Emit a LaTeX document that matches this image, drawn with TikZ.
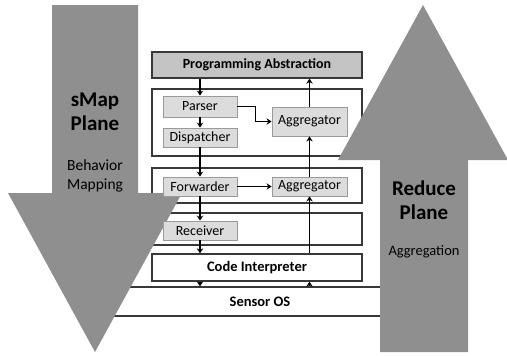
\documentclass[tikz,border=0pt]{standalone}
\usepackage{fontspec}
\setmainfont{Carlito}
\usetikzlibrary{arrows.meta}
\definecolor{bigarrow}{HTML}{8F8F8F}
\definecolor{absfill}{HTML}{C4C4C4}
\definecolor{boxfill}{HTML}{DCDCDC}
\definecolor{boxline}{HTML}{9A9A9A}
\definecolor{frameline}{HTML}{383838}
\begin{document}
\begin{tikzpicture}[x=1pt,y=-1pt,
  frame/.style={draw=frameline,line width=1.3pt,fill=white,inner sep=0pt,minimum width=210pt},
  inbox/.style={draw=boxline,line width=0.9pt,fill=boxfill,inner sep=0pt,minimum width=74pt,font=\fontsize{14}{15}\selectfont},
  conn/.style={draw=black,line width=1.7pt,-{Stealth[length=5pt,width=6.5pt]}},
  plane/.style={align=center,font=\fontsize{21}{24}\selectfont\bfseries},
  sub/.style={align=center,font=\fontsize{14.5}{19}\selectfont}]
\useasboundingbox (0,0) rectangle (507,356);
% sensor OS (behind arrows)
\node[frame,minimum width=320pt,minimum height=29pt,font=\fontsize{14.5}{15}\selectfont\bfseries] (os) at (260,301.5) {Sensor OS};
% frames
\node[frame,fill=absfill,minimum height=26pt,font=\fontsize{14}{15}\selectfont\bfseries] (pa) at (257,65) {Programming Abstraction};
\node[frame,minimum height=67pt] (f1) at (257,122.5) {};
\node[frame,minimum height=35pt] (f2) at (257,185.5) {};
\node[frame,minimum height=32pt] (f3) at (257,229) {};
\node[frame,minimum height=27pt,font=\fontsize{14.5}{15}\selectfont\bfseries] (ci) at (257,267.5) {Code Interpreter};
% big arrows
\fill[bigarrow] (52,5) -- (138,5) -- (138,193) -- (182,193) -- (95,352) -- (8,193) -- (52,193) -- cycle;
\fill[bigarrow] (423,5) -- (508,160) -- (468,160) -- (468,352) -- (380,352) -- (380,160) -- (338,160) -- cycle;
\node[plane] (smap) at (95,112) {sMap\\Plane};
\node[sub,font=\fontsize{15.5}{19}\selectfont] (bm) at (95,175.5) {Behavior\\Mapping};
\node[plane] (reduce) at (424,200.5) {Reduce\\Plane};
\node[sub] (agn) at (424,252) {Aggregation};
% inner boxes
\node[inbox,minimum height=21pt] (parser) at (200,106.5) {Parser};
\node[inbox,minimum height=19pt] (disp) at (200,137.5) {Dispatcher};
\node[inbox,minimum height=19pt] (fwd) at (200,186.5) {Forwarder};
\node[inbox,minimum height=19pt] (recv) at (200,230.5) {Receiver};
\node[inbox,minimum width=75pt,minimum height=29pt] (agg1) at (309.5,121.5) {Aggregator};
\node[inbox,minimum width=75pt,minimum height=19pt] (agg2) at (309.5,186.5) {Aggregator};
% connectors
\draw[conn] (parser.north |- pa.south) -- (parser.north);
\draw[conn] (parser) -- (disp);
\draw[conn] (disp) -- (fwd);
\draw[conn] (fwd) -- (recv);
\draw[conn] (recv.south) -- (recv.south |- ci.north);
\draw[conn] (recv.south |- ci.south) -- (recv.south |- os.north);
\draw[conn] (parser.east) -- ++(18,0) |- (agg1.west);
\draw[conn] (fwd.east) -- (agg2.west);
\draw[conn] (agg2.north) -- (agg1.south);
\draw[conn] (agg1.north) -- (agg1.north |- pa.south);
\draw[conn] (agg2.south |- ci.north) -- (agg2.south);
\draw[conn] (agg2.south |- os.north) -- (agg2.south |- ci.south);
\end{tikzpicture}
\end{document}
